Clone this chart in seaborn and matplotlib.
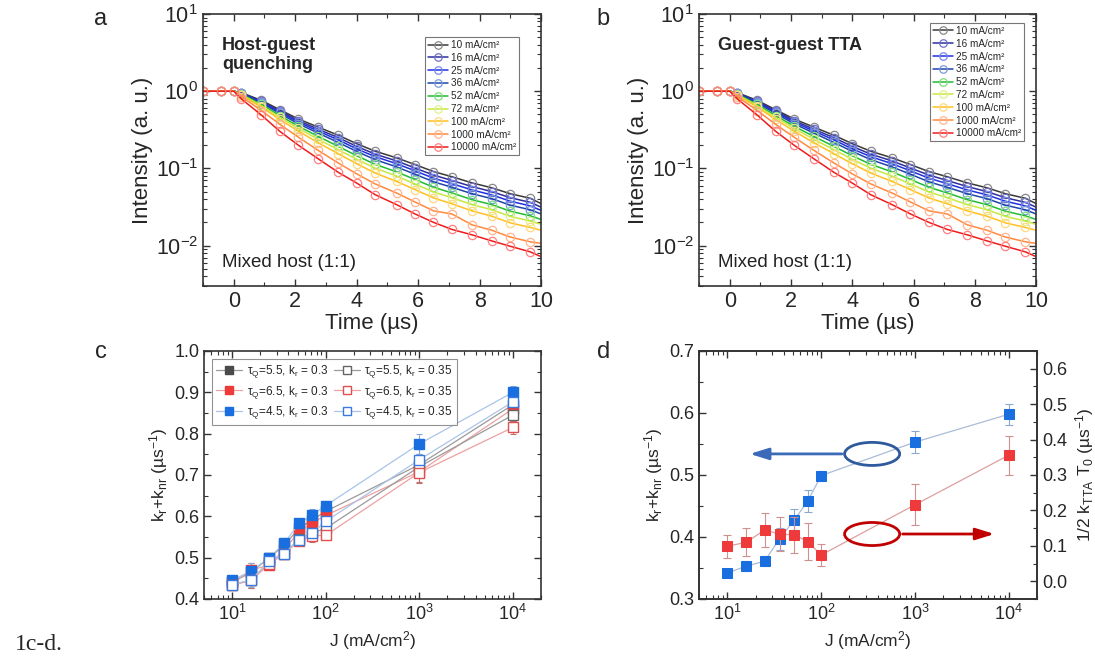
import matplotlib
matplotlib.use("Agg")
import matplotlib.pyplot as plt
import seaborn as sns
from matplotlib.patches import Ellipse
from matplotlib.ticker import MultipleLocator, LogLocator, NullFormatter

# ---------------- data ----------------
TIME_US = [-1.0, -0.4, 0.0, 0.25, 0.9, 1.5, 2.1, 2.75, 3.4, 4.0, 4.6, 5.3, 5.9, 6.5, 7.1, 7.75, 8.4, 9.0, 9.65, 10.0]
CURRENTS = ["10", "16", "25", "36", "52", "72", "100", "1000", "10000"]
I_10 = [1.0, 1.0, 1.0, 0.955, 0.76, 0.575, 0.437, 0.342, 0.269, 0.209, 0.167, 0.137, 0.112, 0.091, 0.078, 0.065, 0.056, 0.047, 0.041, 0.035]
I_16 = [1.0, 1.0, 1.0, 0.945, 0.738, 0.553, 0.416, 0.321, 0.250, 0.193, 0.153, 0.125, 0.101, 0.082, 0.0697, 0.0582, 0.050, 0.0417, 0.0363, 0.0315]
I_25 = [1.0, 1.0, 1.0, 0.936, 0.721, 0.535, 0.398, 0.304, 0.234, 0.179, 0.142, 0.115, 0.0929, 0.0747, 0.0634, 0.0527, 0.0453, 0.0376, 0.0327, 0.0286]
I_36 = [1.0, 1.0, 1.0, 0.927, 0.702, 0.514, 0.379, 0.286, 0.217, 0.166, 0.130, 0.1045, 0.084, 0.0671, 0.0569, 0.0471, 0.0405, 0.0334, 0.0291, 0.0257]
I_52 = [1.0, 1.0, 1.0, 0.912, 0.673, 0.483, 0.352, 0.259, 0.193, 0.146, 0.113, 0.0902, 0.0718, 0.057, 0.0481, 0.0394, 0.0339, 0.0279, 0.0243, 0.0218]
I_72 = [1.0, 1.0, 1.0, 0.90, 0.649, 0.458, 0.33, 0.238, 0.175, 0.131, 0.101, 0.0794, 0.0628, 0.0495, 0.0417, 0.034, 0.0291, 0.0239, 0.0208, 0.0189]
I_100 = [1.0, 1.0, 1.0, 0.884, 0.621, 0.43, 0.304, 0.215, 0.155, 0.115, 0.0871, 0.0678, 0.0531, 0.0415, 0.0348, 0.0282, 0.024, 0.0197, 0.0172, 0.0158]
I_1000 = [1.0, 1.0, 1.0, 0.85, 0.562, 0.372, 0.254, 0.171, 0.1175, 0.085, 0.063, 0.048, 0.0367, 0.0282, 0.0257, 0.0186, 0.0158, 0.0129, 0.0112, 0.0107]
I_10000 = [1.0, 1.0, 1.0, 0.794, 0.49, 0.302, 0.20, 0.133, 0.089, 0.0646, 0.0457, 0.0339, 0.0257, 0.020, 0.0162, 0.0138, 0.0115, 0.0098, 0.0083, 0.0072]
DECAYS = [I_10, I_16, I_25, I_36, I_52, I_72, I_100, I_1000, I_10000]

J = [10, 16, 25, 36, 52, 72, 100, 1000, 10000]
# panel c : k_r + k_nr
C_55_03 = [0.440, 0.465, 0.500, 0.530, 0.571, 0.592, 0.612, 0.725, 0.870]
C_65_03 = [0.440, 0.470, 0.482, 0.520, 0.562, 0.585, 0.602, 0.708, 0.860]
C_45_03 = [0.445, 0.468, 0.500, 0.535, 0.583, 0.604, 0.626, 0.775, 0.900]
C_55_035 = [0.435, 0.445, 0.490, 0.510, 0.545, 0.560, 0.571, 0.720, 0.845]
C_65_035 = [0.433, 0.445, 0.485, 0.510, 0.540, 0.553, 0.554, 0.706, 0.815]
C_45_035 = [0.434, 0.447, 0.491, 0.510, 0.543, 0.560, 0.588, 0.737, 0.877]
C_ERR = [0.010, 0.018, 0.008, 0.012, 0.010, 0.014, 0.010, 0.025, 0.015]
C_LABELS = ["τ$_\\mathregular{Q}$=5.5, k$_\\mathregular{r}$ = 0.3",
            "τ$_\\mathregular{Q}$=6.5, k$_\\mathregular{r}$ = 0.3",
            "τ$_\\mathregular{Q}$=4.5, k$_\\mathregular{r}$ = 0.3",
            "τ$_\\mathregular{Q}$=5.5, k$_\\mathregular{r}$ = 0.35",
            "τ$_\\mathregular{Q}$=6.5, k$_\\mathregular{r}$ = 0.35",
            "τ$_\\mathregular{Q}$=4.5, k$_\\mathregular{r}$ = 0.35"]
# panel d
D_KRKNR = [0.342, 0.353, 0.361, 0.397, 0.428, 0.458, 0.499, 0.553, 0.598]
D_KRKNR_ERR = [0.006, 0.008, 0.008, 0.018, 0.017, 0.018, 0.008, 0.018, 0.017]
D_KTTA = [0.099, 0.110, 0.145, 0.133, 0.131, 0.112, 0.074, 0.216, 0.356]
D_KTTA_ERR = [0.032, 0.040, 0.047, 0.047, 0.050, 0.052, 0.031, 0.058, 0.055]

# ---------------- style ----------------
sns.set_theme(style="ticks")
plt.rcParams['font.family'] = ['Liberation Sans', 'DejaVu Sans']
plt.rcParams['mathtext.fontset'] = 'custom'
plt.rcParams['mathtext.rm'] = 'Liberation Sans'
plt.rcParams['mathtext.it'] = 'Liberation Sans'
plt.rcParams['mathtext.bf'] = 'Liberation Sans:bold'
plt.rcParams['axes.edgecolor'] = '#333333'
plt.rcParams['axes.linewidth'] = 1.2
plt.rcParams['axes.unicode_minus'] = False

LINE_COLORS = ['#3a3a3a', '#2e2e9c', '#2030e0', '#1f45a8', '#22bb33', '#c8e840', '#ffc020', '#ff8a3d', '#ee1c1c']
MARK_COLORS = ['#888888', '#7070cc', '#7788f0', '#7a9ad8', '#80dd80', '#e0f090', '#ffd880', '#ffb590', '#ff8080']

fig = plt.figure(figsize=(10.95, 6.62), dpi=100)
axa = fig.add_axes([0.1854, 0.568, 0.3087, 0.4109])
axb = fig.add_axes([0.6384, 0.568, 0.3078, 0.4109])
axc = fig.add_axes([0.1863, 0.0952, 0.3078, 0.3746])
axd = fig.add_axes([0.6384, 0.0952, 0.3087, 0.3746])


def style_ticks(ax, size, right=True):
    ax.tick_params(which='both', direction='in', top=True, right=right, labelsize=size, color='#333333')
    ax.tick_params(which='major', length=5, width=1.0)
    ax.tick_params(which='minor', length=3, width=0.8)


# ---------- panels a and b ----------
for ax, title, leg_anchor in [(axa, "Host-guest\nquenching", (0.935, 0.915)),
                              (axb, "Guest-guest TTA", (0.964, 0.967))]:
    for cur, vals, lc, mc in zip(CURRENTS, DECAYS, LINE_COLORS, MARK_COLORS):
        sns.lineplot(x=TIME_US, y=vals, ax=ax, color=lc, lw=1.1, marker='o', ms=6,
                     mfc='none', mec=mc, mew=0.9, markevery=list(range(len(TIME_US) - 1)),
                     label=f"{cur} mA/cm²")
    ax.set_yscale('log')
    ax.set_ylim(3e-3, 10)
    ax.set_xlim(-1, 10)
    ax.xaxis.set_major_locator(MultipleLocator(2))
    ax.xaxis.set_minor_locator(MultipleLocator(1))
    ax.yaxis.set_major_locator(LogLocator(base=10, numticks=10))
    ax.yaxis.set_minor_locator(LogLocator(base=10, subs=range(2, 10), numticks=20))
    ax.yaxis.set_minor_formatter(NullFormatter())
    style_ticks(ax, 15.5)
    ax.set_xlabel("Time (µs)", fontsize=16, labelpad=1)
    ax.set_ylabel("Intensity (a. u.)", fontsize=16, labelpad=2)
    ax.text(0.056, 0.915, title, transform=ax.transAxes, fontsize=13, fontweight='bold',
            va='top', ha='left', linespacing=1.15)
    ax.text(0.056, 0.085, "Mixed host (1:1)", transform=ax.transAxes, fontsize=13.5,
            va='center', ha='left', color='#222222')
    leg = ax.legend(loc='upper right', bbox_to_anchor=leg_anchor, borderaxespad=0,
                    fontsize=7.2, frameon=True, fancybox=False, edgecolor='#555555',
                    handlelength=2.0, labelspacing=0.28, handletextpad=0.3, borderpad=0.3,
                    markerscale=0.9)
    leg.get_frame().set_linewidth(0.8)

# ---------- panel c ----------
c_series = [C_55_03, C_65_03, C_45_03, C_55_035, C_65_035, C_45_035]
c_line = ['#9a9a9a', '#eea0a0', '#a9c4e8', '#9a9a9a', '#eea0a0', '#a9c4e8']
c_fill = ['#4a4a4a', '#ee3a3a', '#1a6fe0', 'white', 'white', 'white']
c_edge = ['#4a4a4a', '#ee3a3a', '#1a6fe0', '#666666', '#e05050', '#3a7ae0']
c_err = ['#888888', '#c07070', '#8aa8d0', '#888888', '#c07070', '#8aa8d0']
for vals, lc, fc, ec, erc, lab in zip(c_series, c_line, c_fill, c_edge, c_err, C_LABELS):
    axc.errorbar(J, vals, yerr=C_ERR, fmt='none', ecolor=erc, elinewidth=0.8, capsize=2.5, capthick=0.8, zorder=1)
    sns.lineplot(x=J, y=vals, ax=axc, color=lc, lw=0.9, marker='s', ms=6.5, mfc=fc, mec=ec,
                 mew=1.0, label=lab, zorder=3)
axc.set_xscale('log')
axc.set_xlim(5, 2e4)
axc.set_ylim(0.4, 1.0)
axc.yaxis.set_major_locator(MultipleLocator(0.1))
axc.yaxis.set_minor_locator(MultipleLocator(0.05))
axc.xaxis.set_minor_formatter(NullFormatter())
style_ticks(axc, 13)
axc.set_xlabel("J (mA/cm$^\\mathregular{2}$)", fontsize=12.5, labelpad=4)
axc.set_ylabel("k$_\\mathregular{r}$+k$_\\mathregular{nr}$ (µs$^\\mathregular{-1}$)", fontsize=12.5, labelpad=3)
legc = axc.legend(loc='upper left', bbox_to_anchor=(0.024, 0.968), borderaxespad=0, ncol=2,
                  fontsize=8.5, frameon=True, fancybox=False, edgecolor='#777777',
                  handlelength=2.2, columnspacing=0.45, handletextpad=0.4, labelspacing=0.3,
                  borderpad=0.35, markerscale=0.8)
legc.get_frame().set_linewidth(0.8)

# ---------- panel d ----------
axd2 = axd.twinx()
axd.errorbar(J, D_KRKNR, yerr=D_KRKNR_ERR, fmt='none', ecolor='#8aa8d0', elinewidth=0.8, capsize=3, capthick=0.8, zorder=1)
sns.lineplot(x=J, y=D_KRKNR, ax=axd, color='#a9bcd8', lw=0.9, marker='s', ms=6.5,
             mfc='#1a6fe0', mec='#1a6fe0', zorder=3)
axd2.errorbar(J, D_KTTA, yerr=D_KTTA_ERR, fmt='none', ecolor='#d09090', elinewidth=0.8, capsize=3, capthick=0.8, zorder=1)
sns.lineplot(x=J, y=D_KTTA, ax=axd2, color='#dca0a0', lw=0.9, marker='s', ms=6.5,
             mfc='#ee3a3a', mec='#ee3a3a', zorder=3)
axd.set_xscale('log')
axd.set_xlim(5, 2e4)
axd.set_ylim(0.3, 0.7)
axd2.set_ylim(-0.05, 0.65)
axd.yaxis.set_major_locator(MultipleLocator(0.1))
axd.yaxis.set_minor_locator(MultipleLocator(0.05))
axd2.yaxis.set_major_locator(MultipleLocator(0.1))
axd2.yaxis.set_minor_locator(MultipleLocator(0.05))
axd.xaxis.set_minor_formatter(NullFormatter())
axd2.yaxis.set_major_formatter(matplotlib.ticker.FormatStrFormatter('%.1f'))
style_ticks(axd, 13, right=False)
axd2.tick_params(which='both', direction='in', labelsize=13, color='#333333')
axd2.tick_params(which='major', length=5, width=1.0)
axd2.tick_params(which='minor', length=3, width=0.8)
axd.set_xlabel("J (mA/cm$^\\mathregular{2}$)", fontsize=12.5, labelpad=4)
axd.set_ylabel("k$_\\mathregular{r}$+k$_\\mathregular{nr}$ (µs$^\\mathregular{-1}$)", fontsize=12.5, labelpad=3)
axd2.set_ylabel("1/2 k$_\\mathregular{TTA}$ T$_\\mathregular{0}$ (µs$^\\mathregular{-1}$)", fontsize=12.5, labelpad=4)

# ellipses and arrows
blue = '#2f5a9e'
red = '#c00000'
axd2.add_patch(Ellipse((0.512, 0.585), 0.163, 0.093, transform=axd.transAxes, fill=False,
                       edgecolor=blue, lw=2.0, zorder=5))
axd2.annotate("", xy=(0.142, 0.585), xytext=(0.431, 0.585), xycoords=axd.transAxes,
              textcoords=axd.transAxes,
              arrowprops=dict(arrowstyle='-|>,head_length=0.8,head_width=0.25', color='#3a6ab8', lw=2.0, mutation_scale=14))
axd2.add_patch(Ellipse((0.512, 0.262), 0.163, 0.093, transform=axd.transAxes, fill=False,
                       edgecolor=red, lw=2.0, zorder=5))
axd2.annotate("", xy=(0.882, 0.262), xytext=(0.594, 0.262), xycoords=axd.transAxes,
              textcoords=axd.transAxes,
              arrowprops=dict(arrowstyle='-|>,head_length=0.8,head_width=0.25', color=red, lw=2.0, mutation_scale=14))

# panel labels
for lab, x, y in [("a", 0.092, 0.972), ("b", 0.551, 0.972), ("c", 0.092, 0.468), ("d", 0.551, 0.468)]:
    fig.text(x, y, lab, fontsize=17, ha='center', va='center')
fig.text(0.014, 0.026, "1c-d.", fontsize=17, ha='left', va='center', family=['Liberation Serif', 'DejaVu Serif'])

fig.savefig("out.png", dpi=100)
